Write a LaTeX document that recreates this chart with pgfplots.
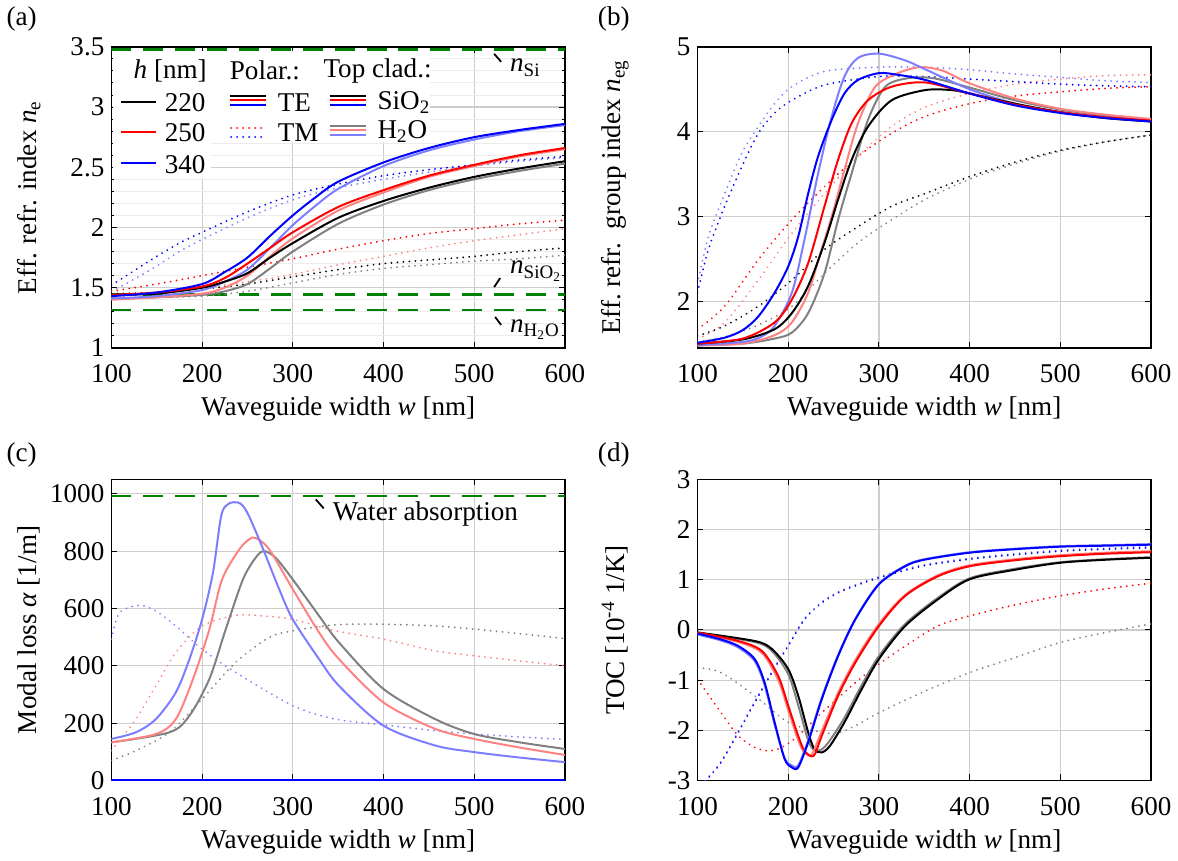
\documentclass[border=0pt]{standalone}
\usepackage{fontspec}
\setmainfont{Liberation Serif}
\usepackage{pgfplots}
\pgfplotsset{compat=1.18}

\definecolor{cgray}{RGB}{128,128,128}
\definecolor{clred}{RGB}{255,130,130}
\definecolor{clblue}{RGB}{125,125,255}
\definecolor{cgreen}{RGB}{0,128,0}
\definecolor{cgrid}{RGB}{205,205,205}

\tikzset{
  te/.style={line width=1pt, smooth, tension=0.5},
  tm/.style={line width=1pt, smooth, tension=0.5, dash pattern=on 0.01pt off 3pt, line cap=round},
  ref/.style={cgreen, line width=1.3pt, dash pattern=on 10pt off 6pt},
}

\pgfplotsset{
  panel/.style={
    scale only axis, width=227.5pt, height=151pt, anchor=south west,
    xmin=100, xmax=600, xtick={100,200,...,600},
    grid=major, major grid style={cgrid, line width=0.6pt},
    tick align=inside, major tick length=3pt, minor tick length=1.5pt,
    every tick/.style={black, line width=0.5pt},
    axis line style={line width=0.7pt},
    xticklabel style={yshift=-5pt},
    xlabel={Waveguide width \textit{w} [nm]},
    ylabel style={at={(axis description cs:-0.182,0.5)}, anchor=center},
    /pgf/number format/assume math mode=true,
    /pgf/number format/1000 sep={},
    scaled ticks=false,
  },
}

\begin{document}
\begin{tikzpicture}[font=\fontsize{13.6}{16}\selectfont]
\path (0,0) rectangle (589pt,429.5pt);

% ---------------- (a) effective index
\begin{axis}[panel, at={(54pt,255.5pt)},
  ymin=1, ymax=3.5, ytick={1,1.5,...,3.5},
  minor y tick num=4, grid=both,
  minor grid style={gray!15, line width=0.5pt},
  ylabel={Eff. refr. index \textit{n}\textsubscript{e}}]
\addplot[ref] coordinates {(100,3.48) (600,3.48)};
\addplot[ref] coordinates {(100,1.444) (600,1.444)};
\addplot[ref] coordinates {(100,1.316) (600,1.316)};
% TM, H2O
\addplot[tm, cgray] coordinates {(100,1.41) (150,1.42) (200,1.43) (250,1.47) (300,1.54) (350,1.61) (400,1.66) (450,1.69) (500,1.72) (550,1.74) (600,1.77)};
\addplot[tm, clred] coordinates {(100,1.42) (150,1.46) (200,1.50) (250,1.55) (300,1.61) (350,1.69) (400,1.76) (450,1.83) (500,1.89) (550,1.94) (600,1.99)};
\addplot[tm, clblue] coordinates {(100,1.47) (125,1.57) (150,1.68) (175,1.80) (200,1.90) (250,2.08) (300,2.23) (350,2.33) (400,2.40) (450,2.46) (500,2.51) (550,2.55) (600,2.58)};
% TM, SiO2
\addplot[tm, black] coordinates {(100,1.45) (150,1.46) (200,1.49) (250,1.53) (300,1.59) (350,1.65) (400,1.70) (450,1.73) (500,1.76) (550,1.80) (600,1.83)};
\addplot[tm, red] coordinates {(100,1.47) (150,1.53) (200,1.60) (250,1.67) (300,1.74) (350,1.82) (400,1.89) (450,1.95) (500,1.99) (550,2.03) (600,2.06)};
\addplot[tm, blue] coordinates {(100,1.52) (125,1.64) (150,1.76) (175,1.87) (200,1.96) (250,2.13) (300,2.27) (350,2.36) (400,2.43) (450,2.48) (500,2.52) (550,2.56) (600,2.59)};
% TE, H2O
\addplot[te, cgray] coordinates {(100,1.41) (150,1.42) (200,1.44) (225,1.47) (250,1.53) (275,1.66) (300,1.80) (350,2.03) (400,2.19) (450,2.31) (500,2.40) (550,2.47) (600,2.53)};
\addplot[te, clred] coordinates {(100,1.40) (150,1.42) (200,1.45) (225,1.50) (250,1.60) (275,1.76) (300,1.91) (350,2.14) (400,2.29) (450,2.42) (500,2.51) (550,2.59) (600,2.65)};
\addplot[te, clblue] coordinates {(100,1.41) (150,1.43) (200,1.48) (225,1.55) (250,1.65) (275,1.83) (300,2.02) (325,2.18) (350,2.32) (400,2.51) (450,2.64) (500,2.73) (550,2.80) (600,2.85)};
% TE, SiO2
\addplot[te, black] coordinates {(100,1.44) (150,1.45) (200,1.50) (225,1.55) (250,1.62) (275,1.75) (300,1.87) (350,2.08) (400,2.22) (450,2.33) (500,2.42) (550,2.49) (600,2.55)};
\addplot[te, red] coordinates {(100,1.44) (150,1.46) (200,1.51) (225,1.58) (250,1.70) (275,1.83) (300,1.96) (350,2.17) (400,2.31) (450,2.43) (500,2.52) (550,2.60) (600,2.66)};
\addplot[te, blue] coordinates {(100,1.43) (150,1.46) (200,1.53) (225,1.63) (250,1.75) (275,1.93) (300,2.10) (325,2.25) (350,2.38) (400,2.54) (450,2.66) (500,2.75) (550,2.81) (600,2.86)};
\end{axis}

% ---------------- (b) group index
\begin{axis}[panel, at={(348pt,255.5pt)},
  ymin=1.45, ymax=5, ytick={2,3,4,5},
  ylabel={Eff.\ refr.\ \ group index \textit{n}\textsubscript{eg}}]
% TM, H2O
\addplot[tm, cgray] coordinates {(100,1.52) (130,1.58) (167,1.72) (204,1.94) (240,2.33) (277,2.69) (314,2.96) (351,3.20) (400,3.44) (450,3.62) (500,3.77) (550,3.88) (600,3.96)};
\addplot[tm, clred] coordinates {(100,1.55) (130,1.75) (167,2.25) (204,2.80) (240,3.27) (277,3.71) (314,4.06) (351,4.29) (400,4.45) (450,4.56) (500,4.62) (550,4.66) (600,4.67)};
\addplot[tm, clblue] coordinates {(100,2.20) (112,2.76) (130,3.27) (149,3.75) (167,4.06) (185,4.33) (204,4.53) (240,4.71) (300,4.76) (350,4.76) (400,4.73) (450,4.68) (500,4.64) (550,4.60) (600,4.58)};
% TM, SiO2
\addplot[tm, black] coordinates {(100,1.59) (130,1.71) (167,1.94) (204,2.25) (240,2.61) (277,2.88) (314,3.12) (351,3.27) (400,3.47) (450,3.64) (500,3.78) (550,3.88) (600,3.96)};
\addplot[tm, red] coordinates {(100,1.67) (130,1.94) (167,2.49) (204,2.96) (240,3.35) (277,3.71) (314,3.98) (351,4.18) (400,4.33) (450,4.42) (500,4.47) (550,4.51) (600,4.53)};
\addplot[tm, blue] coordinates {(100,2.10) (112,2.61) (130,3.12) (149,3.59) (167,3.98) (185,4.22) (204,4.37) (240,4.55) (300,4.65) (350,4.65) (400,4.62) (450,4.59) (500,4.56) (550,4.54) (600,4.53)};
% TE, H2O
\addplot[te, cgray] coordinates {(100,1.48) (150,1.50) (185,1.56) (204,1.63) (222,1.86) (240,2.33) (255,2.96) (270,3.51) (288,4.14) (307,4.53) (332,4.63) (360,4.63) (400,4.52) (450,4.37) (500,4.26) (550,4.19) (600,4.14)};
\addplot[te, clred] coordinates {(100,1.48) (150,1.50) (185,1.60) (204,1.75) (222,2.10) (235,2.55) (248,3.00) (262,3.55) (277,4.10) (296,4.53) (321,4.69) (345,4.76) (370,4.72) (400,4.57) (450,4.39) (500,4.27) (550,4.20) (600,4.15)};
\addplot[te, clblue] coordinates {(100,1.48) (150,1.52) (170,1.58) (185,1.71) (204,2.10) (218,2.73) (233,3.51) (248,4.18) (262,4.65) (277,4.87) (300,4.92) (329,4.84) (350,4.74) (400,4.50) (450,4.33) (500,4.23) (550,4.17) (600,4.12)};
% TE, SiO2
\addplot[te, black] coordinates {(100,1.50) (150,1.55) (185,1.67) (204,1.86) (222,2.18) (240,2.69) (255,3.20) (270,3.67) (288,4.06) (314,4.37) (351,4.49) (380,4.49) (400,4.45) (450,4.33) (500,4.23) (550,4.16) (600,4.12)};
\addplot[te, red] coordinates {(100,1.50) (150,1.56) (185,1.75) (204,2.02) (222,2.45) (240,3.12) (255,3.67) (270,4.10) (288,4.37) (314,4.53) (351,4.58) (400,4.45) (450,4.32) (500,4.23) (550,4.17) (600,4.13)};
\addplot[te, blue] coordinates {(100,1.51) (130,1.57) (150,1.66) (167,1.82) (185,2.10) (200,2.41) (211,2.76) (222,3.27) (233,3.71) (248,4.14) (262,4.45) (277,4.61) (300,4.69) (321,4.67) (351,4.61) (400,4.45) (450,4.31) (500,4.22) (550,4.16) (600,4.12)};
\end{axis}

% ---------------- (c) modal loss
\begin{axis}[panel, at={(54pt,38.5pt)},
  ymin=0, ymax=1050, ytick={0,200,...,1000},
  ylabel={Modal loss \textit{α} [1/m]}]
\addplot[ref] coordinates {(100,992) (600,992)};
\addplot[tm, cgray] coordinates {(100,70) (127,104) (164,168) (200,284) (237,412) (274,499) (300,522) (347,543) (400,545) (457,539) (500,528) (550,512) (600,495)};
\addplot[tm, clred] coordinates {(100,104) (127,214) (149,330) (171,446) (200,539) (237,576) (266,574) (300,562) (347,522) (400,493) (457,452) (500,435) (550,417) (600,400)};
\addplot[tm, clblue] coordinates {(100,493) (109,585) (131,611) (149,591) (171,539) (200,458) (237,377) (300,261) (347,214) (400,194) (450,176) (500,162) (550,152) (600,143)};
\addplot[te, cgray] coordinates {(100,133) (164,168) (186,226) (208,354) (226,527) (245,701) (259,777) (268,800) (281,777) (300,701) (329,574) (351,481) (400,319) (457,214) (500,162) (550,133) (600,110)};
\addplot[te, clred] coordinates {(100,133) (149,162) (171,214) (190,354) (208,527) (222,701) (241,806) (252,841) (259,846) (274,806) (300,667) (329,516) (351,423) (400,272) (457,180) (500,145) (550,115) (600,89)};
\addplot[te, clblue] coordinates {(100,145) (127,168) (149,214) (171,307) (186,423) (200,562) (212,725) (221,922) (229,965) (241,968) (250,933) (266,817) (285,667) (300,562) (329,423) (351,330) (400,191) (457,122) (500,99) (550,80) (600,64)};
% SiO2 cladding: no absorption
\addplot[te, black] coordinates {(100,0) (600,0)};
\addplot[te, red] coordinates {(100,0) (600,0)};
\addplot[te, blue, line width=1.2pt] coordinates {(100,0) (600,0)};
\end{axis}

% ---------------- (d) TOC
\begin{axis}[panel, at={(348pt,38.5pt)},
  ymin=-3, ymax=3, ytick={-3,-2,...,3},
  ylabel={TOC [10\textsuperscript{-4} 1/K]}]
\addplot[tm, cgray] coordinates {(100,-0.75) (126,-0.85) (163,-1.31) (200,-1.84) (237,-2.04) (255,-2.05) (274,-1.91) (300,-1.65) (347,-1.25) (400,-0.85) (450,-0.55) (500,-0.25) (550,-0.05) (600,0.12)};
\addplot[tm, red] coordinates {(100,-0.98) (126,-1.65) (145,-2.11) (163,-2.34) (178,-2.41) (193,-2.34) (211,-2.11) (237,-1.65) (274,-1.05) (300,-0.68) (329,-0.32) (365,0.08) (400,0.28) (450,0.50) (500,0.68) (550,0.82) (600,0.93)};
\addplot[tm, clblue] coordinates {(100,-3.18) (112,-2.93) (126,-2.62) (145,-2.02) (163,-1.43) (182,-0.83) (200,-0.30) (218,0.23) (237,0.56) (255,0.76) (274,0.90) (300,1.06) (347,1.29) (400,1.43) (450,1.52) (500,1.59) (550,1.63) (600,1.66)};
\addplot[tm, blue] coordinates {(100,-3.2) (112,-2.95) (126,-2.64) (145,-2.04) (163,-1.45) (182,-0.85) (200,-0.32) (218,0.21) (237,0.54) (255,0.74) (274,0.88) (300,1.04) (347,1.27) (400,1.41) (450,1.50) (500,1.57) (550,1.61) (600,1.64)};
\addplot[te, cgray] coordinates {(100,-0.06) (163,-0.24) (182,-0.42) (200,-0.88) (211,-1.5) (222,-2.2) (229,-2.40) (237,-2.38) (246,-2.2) (262,-1.75) (281,-1.10) (300,-0.52) (329,0.12) (365,0.64) (400,1.03) (450,1.22) (500,1.35) (550,1.41) (600,1.45)};
\addplot[te, black] coordinates {(100,-0.05) (163,-0.22) (182,-0.38) (200,-0.78) (211,-1.31) (222,-2.04) (229,-2.38) (237,-2.44) (246,-2.31) (262,-1.84) (281,-1.18) (300,-0.58) (329,0.08) (365,0.61) (400,1.01) (450,1.20) (500,1.34) (550,1.40) (600,1.44)};
\addplot[te, clred] coordinates {(100,-0.06) (145,-0.24) (171,-0.46) (189,-1.0) (200,-1.6) (211,-2.2) (218,-2.45) (226,-2.48) (235,-2.1) (255,-1.25) (274,-0.6) (300,0.12) (329,0.7) (365,1.09) (400,1.29) (450,1.41) (500,1.49) (550,1.54) (600,1.57)};
\addplot[te, red] coordinates {(100,-0.05) (145,-0.22) (171,-0.42) (189,-0.92) (200,-1.51) (211,-2.11) (218,-2.41) (228,-2.51) (237,-2.11) (255,-1.31) (274,-0.65) (300,0.08) (329,0.68) (365,1.07) (400,1.27) (450,1.39) (500,1.47) (550,1.52) (600,1.55)};
\addplot[te, clblue] coordinates {(100,-0.09) (126,-0.21) (145,-0.35) (163,-0.62) (174,-1.1) (185,-1.88) (196,-2.55) (204,-2.70) (211,-2.70) (222,-2.2) (237,-1.35) (255,-0.5) (274,0.22) (300,0.92) (329,1.28) (350,1.41) (400,1.55) (450,1.62) (500,1.67) (550,1.69) (600,1.71)};
\addplot[te, blue] coordinates {(100,-0.07) (126,-0.19) (145,-0.32) (163,-0.58) (174,-1.05) (185,-1.84) (196,-2.57) (204,-2.74) (211,-2.74) (222,-2.24) (237,-1.38) (255,-0.52) (274,0.21) (300,0.91) (329,1.27) (350,1.40) (400,1.54) (450,1.61) (500,1.66) (550,1.68) (600,1.70)};
\end{axis}

% ---------------- legend of (a), annotations, panel letters (pixel frame)
\begin{scope}[yshift=429.5pt, x=0.5pt, y=-0.5pt]
\fill[white] (110,50) rectangle (428,141);
\fill[white] (110,141) rectangle (208,178);
\node at (167,70) {\textit{h} [nm]};
\draw[line width=1pt, black] (118,101) -- (153,101); \node at (182,102) {220};
\draw[line width=1pt, red]   (118,131) -- (153,131); \node at (182,132) {250};
\draw[line width=1pt, blue]  (118,163) -- (153,163); \node at (182,164) {340};
\node at (262,70) {Polar.:};
\draw[line width=1pt, black] (227,95) -- (263,95);
\draw[line width=1pt, red]   (227,99.5) -- (263,99.5);
\draw[line width=1pt, blue]  (227,104) -- (263,104);
\node[anchor=west] at (268,102) {TE};
\draw[line width=1pt, dash pattern=on 0.01pt off 3pt, line cap=round, red]  (228,127) -- (263,127);
\draw[line width=1pt, dash pattern=on 0.01pt off 3pt, line cap=round, blue] (228,136) -- (263,136);
\node[anchor=west] at (268,132) {TM};
\node at (375,70) {Top clad.:};
\draw[line width=1pt, black] (327,95) -- (363,95);
\draw[line width=1pt, red]   (327,99.5) -- (363,99.5);
\draw[line width=1pt, blue]  (327,104) -- (363,104);
\node[anchor=west] at (368,102) {SiO\textsubscript{2}};
\draw[line width=1pt, cgray]  (327,125) -- (363,125);
\draw[line width=1pt, clred]  (327,129.5) -- (363,129.5);
\draw[line width=1pt, clblue] (327,134) -- (363,134);
\node[anchor=west] at (368,131) {H\textsubscript{2}O};
% annotations
\draw[line width=0.9pt] (492,53) -- (499,61);
\node[anchor=west] at (501,67) {\textit{n}\textsubscript{Si}};
\draw[line width=0.9pt] (492,287) -- (498,278);
\node[anchor=west] at (501,271) {\textit{n}\textsubscript{SiO\textsubscript{2}}};
\draw[line width=0.9pt] (493,317) -- (499,325);
\node[anchor=west] at (501,330) {\textit{n}\textsubscript{H\textsubscript{2}O}};
\draw[line width=0.9pt] (313,500) -- (321,509);
\node[anchor=west] at (323,515) {Water absorption};
% panel letters
\node at (18,18) {(a)};
\node at (612,18) {(b)};
\node at (18,455) {(c)};
\node at (612,455) {(d)};
\end{scope}
\end{tikzpicture}
\end{document}
